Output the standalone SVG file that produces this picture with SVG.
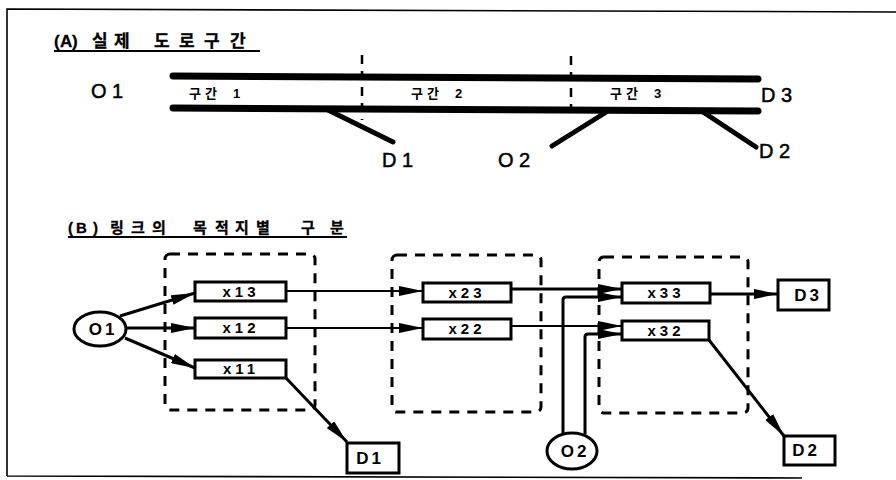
<svg xmlns="http://www.w3.org/2000/svg" width="896" height="480" viewBox="0 0 896 480">
<style>
.frame{fill:none;stroke:#000;stroke-width:1.6}
.road{fill:none;stroke:#000;stroke-width:7;stroke-linecap:round}
.ramp{fill:none;stroke:#000;stroke-width:5;stroke-linecap:round}
.div{fill:none;stroke:#000;stroke-width:2.5;stroke-dasharray:9 7}
.big{font-family:"Liberation Sans",Arial,sans-serif;font-size:20px;fill:#000;stroke:#000;stroke-width:0.5}
.sec{font-family:"Liberation Sans","Noto Sans CJK KR",sans-serif;font-size:13px;font-weight:bold;fill:#000}
.title{font-family:"Liberation Sans","Noto Sans CJK KR",sans-serif;font-weight:bold;fill:#000;stroke:#000;stroke-width:0.3}
.ul{stroke:#000;stroke-width:1.8}
.grp{fill:none;stroke:#000;stroke-width:3;stroke-dasharray:10 8}
.box{fill:#fff;stroke:#000;stroke-width:3}
.lbl{font-family:"Liberation Sans",Arial,sans-serif;font-size:15px;font-weight:bold;fill:#000;text-anchor:middle;letter-spacing:4px}
.dl{font-family:"Liberation Sans",Arial,sans-serif;font-size:17px;font-weight:bold;fill:#000;text-anchor:middle;letter-spacing:3px}
.c{fill:none;stroke:#000;stroke-width:3;stroke-linejoin:round}
.t{fill:none;stroke:#000;stroke-width:2}
</style>
<defs>
<marker id="ah" markerUnits="userSpaceOnUse" markerWidth="24" markerHeight="10" refX="24" refY="5" orient="auto">
<path d="M0,0 L24,5 L0,10 Z" fill="#000"/>
</marker>
</defs>
<rect width="896" height="480" fill="#fff"/>
<path class="frame" d="M7,476 L7,9 L896,12 M7,476 L802,478"/>

<!-- (A) -->
<text class="title" y="47" font-size="17"><tspan x="54">(</tspan><tspan x="60">A</tspan><tspan x="72">)</tspan><tspan x="92">실</tspan><tspan x="114">제</tspan><tspan x="154">도</tspan><tspan x="179">로</tspan><tspan x="204">구</tspan><tspan x="230">간</tspan></text>
<line class="ul" x1="54" y1="51" x2="260" y2="51"/>
<path class="road" d="M173,76 L758,79 M173,108 L758,111"/>
<path class="div" d="M362,55 L362,120 M571,56 L571,120"/>
<path class="ramp" d="M328,110 L393,142 M608,111 L552,146 M703,112 L756,147"/>
<text class="big" x="91" y="98">O 1</text>
<text class="sec" y="98"><tspan x="189">구</tspan><tspan x="205">간</tspan><tspan x="233">1</tspan></text>
<text class="sec" y="98"><tspan x="411">구</tspan><tspan x="427">간</tspan><tspan x="455">2</tspan></text>
<text class="sec" y="98"><tspan x="610">구</tspan><tspan x="626">간</tspan><tspan x="654">3</tspan></text>
<text class="big" x="761" y="102">D 3</text>
<text class="big" x="759" y="158">D 2</text>
<text class="big" x="382" y="167">D 1</text>
<text class="big" x="498" y="167">O 2</text>

<!-- (B) -->
<text class="title" y="233" font-size="15"><tspan x="68">(</tspan><tspan x="76">B</tspan><tspan x="93">)</tspan><tspan x="110">링</tspan><tspan x="131">크</tspan><tspan x="152">의</tspan><tspan x="193">목</tspan><tspan x="215">적</tspan><tspan x="235">지</tspan><tspan x="256">별</tspan><tspan x="301">구</tspan><tspan x="330">분</tspan></text>
<line class="ul" x1="68" y1="237" x2="347" y2="237"/>

<g id="group1"><rect class="grp" x="165" y="254" width="150" height="156" rx="5"/></g>
<g id="group2"><rect class="grp" x="392" y="255" width="149" height="157" rx="5"/></g>
<g id="group3"><rect class="grp" x="599" y="257" width="149" height="156" rx="5"/></g>

<g id="connectors">
<line class="c" x1="120" y1="316" x2="195" y2="293" marker-end="url(#ah)"/>
<line class="c" x1="127" y1="328" x2="195" y2="328" marker-end="url(#ah)"/>
<line class="c" x1="125" y1="338" x2="195" y2="368" marker-end="url(#ah)"/>
<line class="t" x1="286" y1="291" x2="423" y2="291" marker-end="url(#ah)"/>
<line class="t" x1="286" y1="328" x2="423" y2="328" marker-end="url(#ah)"/>
<line class="c" x1="286" y1="378" x2="347" y2="442" marker-end="url(#ah)"/>
<line class="c" x1="511" y1="289" x2="622" y2="289" marker-end="url(#ah)"/>
<line class="t" x1="511" y1="326" x2="622" y2="326" marker-end="url(#ah)"/>
<path class="c" d="M563,434 L563,300 Q563,297 566,297 L622,297" marker-end="url(#ah)"/>
<path class="c" d="M585,434 L585,337 Q585,334 588,334 L622,334" marker-end="url(#ah)"/>
<line class="c" x1="710" y1="294" x2="778" y2="294" marker-end="url(#ah)"/>
<line class="c" x1="709" y1="340" x2="784" y2="436" marker-end="url(#ah)"/>
</g>

<g id="O1"><ellipse class="box" cx="100" cy="329" rx="26" ry="17"/><text class="dl" x="103" y="335">O1</text></g>
<g id="x13"><rect class="box" x="195" y="282" width="91" height="19"/><text class="lbl" x="241" y="297">x13</text></g>
<g id="x12"><rect class="box" x="195" y="318" width="91" height="20"/><text class="lbl" x="241" y="333">x12</text></g>
<g id="x11"><rect class="box" x="195" y="360" width="91" height="18"/><text class="lbl" x="241" y="374">x11</text></g>
<g id="x23"><rect class="box" x="423" y="283" width="88" height="19"/><text class="lbl" x="467" y="298">x23</text></g>
<g id="x22"><rect class="box" x="423" y="319" width="88" height="20"/><text class="lbl" x="467" y="334">x22</text></g>
<g id="x33"><rect class="box" x="622" y="283" width="88" height="20"/><text class="lbl" x="666" y="298">x33</text></g>
<g id="x32"><rect class="box" x="622" y="321" width="87" height="19"/><text class="lbl" x="666" y="336">x32</text></g>
<g id="D1"><rect class="box" x="347" y="443" width="52" height="30"/><text class="dl" x="370" y="464">D1</text></g>
<g id="D3"><rect class="box" x="778" y="280" width="51" height="30"/><text class="dl" x="808" y="301">D3</text></g>
<g id="D2"><rect class="box" x="784" y="436" width="51" height="29"/><text class="dl" x="806" y="456">D2</text></g>
<g id="O2"><ellipse class="box" cx="572" cy="451" rx="25" ry="18"/><text class="dl" x="575" y="457">O2</text></g>
</svg>
